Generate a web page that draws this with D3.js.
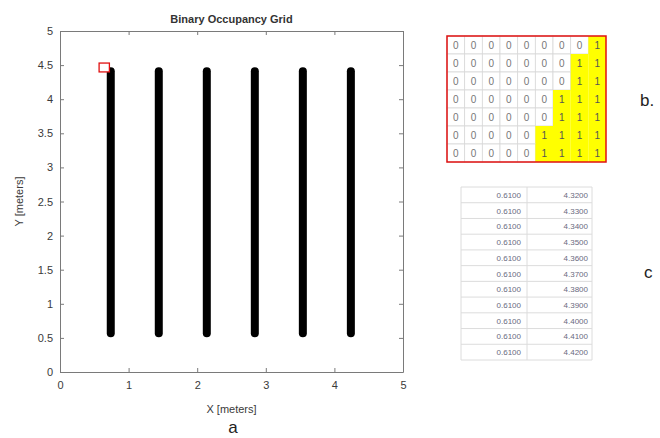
<!DOCTYPE html>
<html>
<head>
<meta charset="utf-8">
<script src="https://cdn.jsdelivr.net/npm/d3@7"></script>
<style>
  body { margin: 0; background: #fff; }
  svg { font-family: Arial, "Liberation Sans", sans-serif; }
</style>
</head>
<body>
<div class="js-container"></div>
<script>
  'use strict';

  // panel a: obstacle lines (x centre in meters), all spanning the same y range
  var barX = [0.74, 1.44, 2.14, 2.84, 3.54, 4.24];
  var barYRange = [0.57, 4.41];
  var xTicks = [0, 1, 2, 3, 4, 5];
  var yTicks = [0, 0.5, 1, 1.5, 2, 2.5, 3, 3.5, 4, 4.5, 5];
  // highlighted cell (meters)
  var markBox = [0.57, 4.40, 0.72, 4.53];

  // panel b: zoom of the occupancy matrix
  var gridRows = [
    [0, 0, 0, 0, 0, 0, 0, 0, 1],
    [0, 0, 0, 0, 0, 0, 0, 1, 1],
    [0, 0, 0, 0, 0, 0, 0, 1, 1],
    [0, 0, 0, 0, 0, 0, 1, 1, 1],
    [0, 0, 0, 0, 0, 0, 1, 1, 1],
    [0, 0, 0, 0, 0, 1, 1, 1, 1],
    [0, 0, 0, 0, 0, 1, 1, 1, 1]
  ];

  // panel c: coordinate table
  var tableX = ['0.6100', '0.6100', '0.6100', '0.6100', '0.6100', '0.6100',
                '0.6100', '0.6100', '0.6100', '0.6100', '0.6100'];
  var tableY = ['4.3200', '4.3300', '4.3400', '4.3500', '4.3600', '4.3700',
                '4.3800', '4.3900', '4.4000', '4.4100', '4.4200'];

  var W = 660, H = 438;
  var svg = d3.select('.js-container').append('svg')
      .attr('width', W).attr('height', H);

  // ---- panel a ----
  var plot = {left: 60, right: 403, top: 31, bottom: 372};
  var x = d3.scaleLinear().domain([0, 5]).range([plot.left, plot.right]);
  var y = d3.scaleLinear().domain([0, 5]).range([plot.bottom, plot.top]);
  var fmt = function(d) { return String(d); };

  var axisColor = '#7a7a7a';
  var textColor = '#3a3a3a';

  function styleAxis(g, showLabels) {
    g.select('.domain').attr('stroke', axisColor);
    g.selectAll('.tick line').attr('stroke', axisColor);
    g.selectAll('.tick text')
        .attr('fill', textColor)
        .attr('font-size', 11)
        .style('display', showLabels ? null : 'none');
  }

  svg.append('g')
      .attr('transform', 'translate(0,' + plot.bottom + ')')
      .call(d3.axisBottom(x).tickValues(xTicks).tickFormat(fmt).tickSize(-4).tickPadding(9).tickSizeOuter(0))
      .call(styleAxis, true);
  svg.append('g')
      .attr('transform', 'translate(0,' + plot.top + ')')
      .call(d3.axisTop(x).tickValues(xTicks).tickSize(-4).tickSizeOuter(0))
      .call(styleAxis, false);
  svg.append('g')
      .attr('transform', 'translate(' + plot.left + ',0)')
      .call(d3.axisLeft(y).tickValues(yTicks).tickFormat(fmt).tickSize(-4).tickPadding(7).tickSizeOuter(0))
      .call(styleAxis, true);
  svg.append('g')
      .attr('transform', 'translate(' + plot.right + ',0)')
      .call(d3.axisRight(y).tickValues(yTicks).tickSize(-4).tickSizeOuter(0))
      .call(styleAxis, false);

  svg.selectAll('line.bar')
      .data(barX)
    .enter().append('line')
      .attr('class', 'bar')
      .attr('x1', function(d) { return x(d); })
      .attr('x2', function(d) { return x(d); })
      .attr('y1', y(barYRange[0]))
      .attr('y2', y(barYRange[1]))
      .attr('stroke', '#000')
      .attr('stroke-width', 8)
      .attr('stroke-linecap', 'round');

  svg.append('rect')
      .attr('x', x(markBox[0]))
      .attr('y', y(markBox[3]))
      .attr('width', x(markBox[2]) - x(markBox[0]))
      .attr('height', y(markBox[1]) - y(markBox[3]))
      .attr('fill', '#fff')
      .attr('stroke', '#e01010')
      .attr('stroke-width', 1.3);

  svg.append('text')
      .attr('x', (plot.left + plot.right) / 2).attr('y', 23)
      .attr('text-anchor', 'middle')
      .attr('font-size', 11).attr('font-weight', 'bold')
      .attr('fill', '#333')
      .text('Binary Occupancy Grid');

  svg.append('text')
      .attr('x', (plot.left + plot.right) / 2).attr('y', 413)
      .attr('text-anchor', 'middle')
      .attr('font-size', 11).attr('fill', textColor)
      .text('X [meters]');

  svg.append('text')
      .attr('transform', 'translate(23,' + ((plot.top + plot.bottom) / 2) + ') rotate(-90)')
      .attr('text-anchor', 'middle')
      .attr('font-size', 11).attr('fill', textColor)
      .text('Y [meters]');

  svg.append('text')
      .attr('x', 233).attr('y', 433)
      .attr('text-anchor', 'middle')
      .attr('font-size', 17).attr('fill', '#222')
      .text('a');

  // ---- panel b ----
  var bBox = {left: 447, right: 606, top: 36, bottom: 162};
  var nCols = gridRows[0].length;
  var bx = d3.scaleBand().domain(d3.range(nCols)).range([bBox.left, bBox.right]);
  var by = d3.scaleBand().domain(d3.range(gridRows.length)).range([bBox.top, bBox.bottom]);

  var cells = [];
  gridRows.forEach(function(row, r) {
    row.forEach(function(v, c) { cells.push({r: r, c: c, v: v}); });
  });

  var cellG = svg.append('g');
  cellG.selectAll('rect')
      .data(cells)
    .enter().append('rect')
      .attr('x', function(d) { return bx(d.c); })
      .attr('y', function(d) { return by(d.r); })
      .attr('width', bx.bandwidth())
      .attr('height', by.bandwidth())
      .attr('fill', function(d) { return d.v ? '#ffff00' : '#fff'; })
      .attr('stroke', function(d) { return d.v ? 'none' : '#d8d8d8'; })
      .attr('stroke-width', 0.8);
  cellG.selectAll('text')
      .data(cells)
    .enter().append('text')
      .attr('x', function(d) { return bx(d.c) + bx.bandwidth() / 2; })
      .attr('y', function(d) { return by(d.r) + by.bandwidth() / 2 + 3.5; })
      .attr('text-anchor', 'middle')
      .attr('font-size', 10)
      .attr('fill', function(d) { return d.v ? '#555' : '#777'; })
      .text(function(d) { return d.v; });

  svg.append('rect')
      .attr('x', bBox.left).attr('y', bBox.top)
      .attr('width', bBox.right - bBox.left)
      .attr('height', bBox.bottom - bBox.top)
      .attr('fill', 'none')
      .attr('stroke', '#e01010')
      .attr('stroke-width', 1.5);

  svg.append('text')
      .attr('x', 640).attr('y', 106)
      .attr('font-size', 17).attr('fill', '#222')
      .text('b.');

  // ---- panel c ----
  var cBox = {left: 461, mid: 527, right: 592, top: 187, bottom: 360};
  var cy = d3.scaleBand().domain(d3.range(tableX.length)).range([cBox.top, cBox.bottom]);
  var gridColor = '#dcdcdc';
  var tbl = svg.append('g');

  tbl.selectAll('line.row')
      .data(d3.range(tableX.length))
    .enter().append('line')
      .attr('class', 'row')
      .attr('x1', cBox.left).attr('x2', cBox.right)
      .attr('y1', function(d) { return cy(d) + cy.bandwidth(); })
      .attr('y2', function(d) { return cy(d) + cy.bandwidth(); })
      .attr('stroke', gridColor);
  tbl.append('line')
      .attr('x1', cBox.left).attr('x2', cBox.right)
      .attr('y1', cBox.top).attr('y2', cBox.top)
      .attr('stroke', gridColor);
  [cBox.left, cBox.mid, cBox.right].forEach(function(xx) {
    tbl.append('line')
        .attr('x1', xx).attr('x2', xx)
        .attr('y1', cBox.top).attr('y2', cBox.bottom)
        .attr('stroke', gridColor);
  });

  tbl.selectAll('text.cx')
      .data(tableX)
    .enter().append('text')
      .attr('class', 'cx')
      .attr('x', cBox.mid - 6)
      .attr('y', function(d, i) { return cy(i) + cy.bandwidth() / 2 + 3; })
      .attr('text-anchor', 'end')
      .attr('font-size', 8).attr('fill', '#6a6a80')
      .text(function(d) { return d; });
  tbl.selectAll('text.cy')
      .data(tableY)
    .enter().append('text')
      .attr('class', 'cy')
      .attr('x', cBox.right - 4)
      .attr('y', function(d, i) { return cy(i) + cy.bandwidth() / 2 + 3; })
      .attr('text-anchor', 'end')
      .attr('font-size', 8).attr('fill', '#6a6a80')
      .text(function(d) { return d; });

  svg.append('text')
      .attr('x', 644).attr('y', 278)
      .attr('font-size', 17).attr('fill', '#222')
      .text('c');
</script>
</body>
</html>
